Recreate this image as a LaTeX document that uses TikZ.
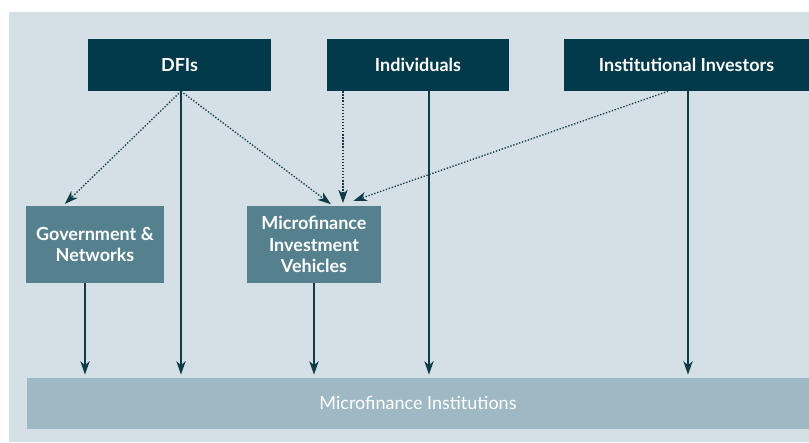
\documentclass[tikz,border=0pt]{standalone}
\usepackage{fontspec}
\setmainfont{Lato}
\usetikzlibrary{arrows.meta,calc}
\definecolor{panel}{HTML}{D5E0E6}
\definecolor{darkbox}{HTML}{003A4A}
\definecolor{midbox}{HTML}{55818F}
\definecolor{lowbar}{HTML}{9FB9C4}
\definecolor{flow}{HTML}{0F3A48}
\tikzset{
  source/.style={fill=darkbox, text=white, font=\fontsize{13.5}{15}\selectfont\bfseries, inner sep=0pt, minimum height=52*0.75pt},
  channel/.style={fill=midbox, text=white, font=\fontsize{13.5}{16}\selectfont\bfseries, align=center, inner sep=0pt, minimum height=77*0.75pt},
  direct/.style={->, draw=flow, line width=1.2pt, shorten >=2pt},
  indirect/.style={->, draw=flow, line width=1pt, dash pattern=on 1pt off 1.3pt, shorten >=2pt},
}
\begin{document}
\begin{tikzpicture}[x=0.75pt,y=-0.75pt, >={Stealth[length=10pt,width=7pt,inset=3pt]}]
  \useasboundingbox[fill=white] (0,0) rectangle (809,442);
  \fill[panel] (9,12) rectangle (809,442);
  % sources
  \node[source, minimum width=183*0.75pt] (dfi) at (179.5,65) {DFIs};
  \node[source, minimum width=182*0.75pt] (ind) at (418,65) {Individuals};
  \node[source, minimum width=245*0.75pt] (inst) at (686.5,65) {Institutional Investors};
  % channels
  \node[channel, minimum width=138*0.75pt] (gov) at (95,244.5) {Government \&\\Networks};
  \node[channel, minimum width=134*0.75pt] (miv) at (314,244.5) {Microfinance\\Investment\\Vehicles};
  % recipients
  \node[fill=lowbar, text=white, font=\fontsize{13.5}{15}\selectfont, inner sep=0pt, minimum width=782*0.75pt, minimum height=51*0.75pt] (mfi) at (418,403) {Microfinance Institutions};
  % start and end points
  \coordinate (dfi out) at ($(dfi.south)+(1.5,0)$);
  \coordinate (gov in) at ($(gov.north)+(-32,0)$);
  \coordinate (gov out) at ($(gov.south)+(-10,0)$);
  \coordinate (miv in) at ($(miv.north)+(29,0)$);
  \coordinate (ind dot) at ($(ind.south)+(-75,0)$);
  \coordinate (ind out) at ($(ind.south)+(11,0)$);
  \coordinate (inst dot) at ($(inst.south)+(-18.5,0)$);
  \coordinate (inst out) at ($(inst.south)+(1.5,0)$);
  % dotted flows
  \draw[indirect] (dfi out) -- (gov in);
  \draw[indirect] (dfi out) -- ($(miv in)+(-10,0)$);
  \draw[indirect] (ind dot) -- (miv in);
  \draw[indirect] (inst dot) -- ($(miv in)+(8,-4)$);
  % solid flows
  \draw[direct] (gov out) -- (gov out |- mfi.north);
  \draw[direct] (dfi out) -- (dfi out |- mfi.north);
  \draw[direct] (miv.south) -- (miv.south |- mfi.north);
  \draw[direct] (ind out) -- (ind out |- mfi.north);
  \draw[direct] (inst out) -- (inst out |- mfi.north);
\end{tikzpicture}
\end{document}
